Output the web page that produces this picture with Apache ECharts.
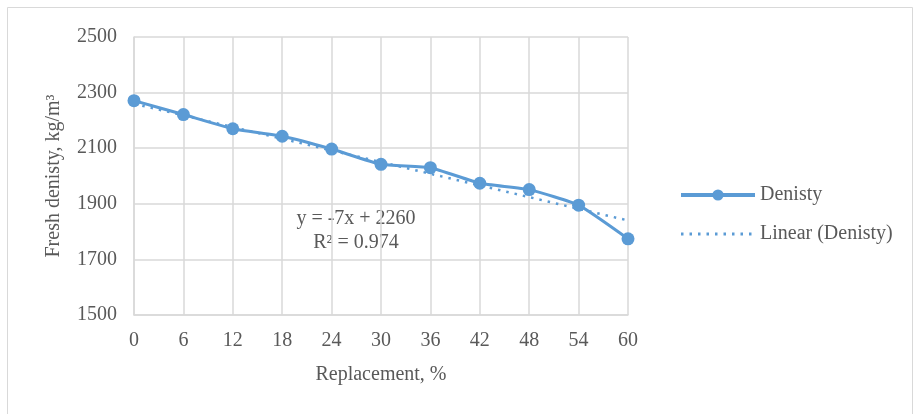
<!DOCTYPE html>
<html>
<head>
<meta charset="utf-8">
<script src="https://cdn.jsdelivr.net/npm/echarts@6/dist/echarts.min.js"></script>
<style>html,body{margin:0;padding:0;background:#fff}#c{width:915px;height:414px}</style>
</head>
<body>
<div id="c"></div>
<script>
var replacement = [0, 6, 12, 18, 24, 30, 36, 42, 48, 54, 60];
var density = [2271, 2221, 2170, 2143, 2097, 2042, 2030, 1974, 1951, 1895, 1774];
var trendX = [0, 60];
var trendY = [2260, 1840];
var yTicks = [1500, 1700, 1900, 2100, 2300, 2500];

var font = 'Liberation Serif';
var fs = 20;
var txt = '#595959';
var chart = echarts.init(document.getElementById('c'));
chart.setOption({
  animation: false,
  backgroundColor: '#fff',
  textStyle: { fontFamily: font },
  grid: { left: 134, right: 287, top: 37, bottom: 99 },
  legend: {
    orient: 'vertical', left: 674, top: 180, itemWidth: 74, itemHeight: 14, itemGap: 19,
    textStyle: { fontFamily: font, fontSize: fs, color: txt },
    data: [
      { name: 'Denisty', lineStyle: { width: 4 } },
      { name: 'Linear (Denisty)', itemStyle: { color: 'rgba(0,0,0,0)', borderColor: 'rgba(0,0,0,0)' }, lineStyle: { width: 3 } }
    ]
  },
  xAxis: {
    type: 'value', min: 0, max: 60, interval: 6,
    name: 'Replacement, %', nameLocation: 'middle', nameGap: 50,
    nameTextStyle: { fontFamily: font, fontSize: fs, color: txt },
    axisLine: { lineStyle: { color: '#d9d9d9', width: 1.5 } },
    axisTick: { show: false },
    axisLabel: { fontFamily: font, fontSize: fs, color: txt, margin: 16 },
    splitLine: { show: true, lineStyle: { color: '#d9d9d9', width: 1.5 } }
  },
  yAxis: {
    type: 'value', min: yTicks[0], max: yTicks[yTicks.length - 1], interval: 200,
    name: 'Fresh denisty, kg/m³', nameLocation: 'middle', nameGap: 70,
    nameTextStyle: { fontFamily: font, fontSize: fs, color: txt },
    axisLine: { show: true, lineStyle: { color: '#d9d9d9', width: 1.5 } },
    axisTick: { show: false },
    axisLabel: { fontFamily: font, fontSize: fs, color: txt, margin: 17, formatter: function (v) { return String(v); } },
    splitLine: { show: true, lineStyle: { color: '#d9d9d9', width: 1.5 } }
  },
  graphic: [
    { type: 'rect', shape: { x: 7.5, y: 7.5, width: 905, height: 410 }, style: { fill: 'none', stroke: '#d9d9d9', lineWidth: 1 }, silent: true },
    { type: 'text', x: 356, y: 219, style: { text: 'y = -7x + 2260', font: fs + 'px "Liberation Serif"', fill: txt, align: 'center', verticalAlign: 'middle' } },
    { type: 'text', x: 356, y: 243, style: { text: 'R² = 0.974', font: fs + 'px "Liberation Serif"', fill: txt, align: 'center', verticalAlign: 'middle' } }
  ],
  series: [
    {
      name: 'Denisty', type: 'line', smooth: 0.15,
      data: replacement.map(function (x, i) { return [x, density[i]]; }),
      symbol: 'circle', symbolSize: 13,
      lineStyle: { color: '#5b9bd5', width: 3 },
      itemStyle: { color: '#5b9bd5' }, z: 3
    },
    {
      name: 'Linear (Denisty)', type: 'line',
      data: trendX.map(function (x, i) { return [x, trendY[i]]; }),
      symbol: 'none',
      lineStyle: { color: '#5b9bd5', width: 2.5, type: [2.5, 6] },
      itemStyle: { color: '#5b9bd5' }, z: 2
    }
  ]
});
</script>
</body>
</html>
